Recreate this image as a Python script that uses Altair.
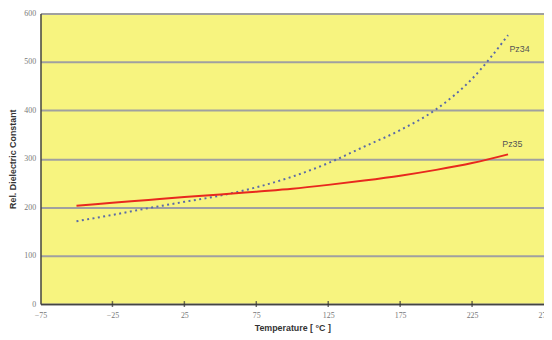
import altair as alt
import pandas as pd

temps = [-50, -25, 0, 25, 50, 75, 100, 125, 150, 175, 200, 225, 250]
pz35 = [203, 209, 215, 221, 226, 232, 238, 246, 255, 265, 277, 291, 309]
pz34 = [171, 184, 198, 211, 224, 241, 263, 291, 325, 359, 402, 465, 555]
x_ticks = [-75, -25, 25, 75, 125, 175, 225, 275]
y_ticks = [0, 100, 200, 300, 400, 500, 600]
label_names = ["Pz34", "Pz35"]
label_t = [258, 253]
label_v = [527, 330]

df = pd.DataFrame({"T": temps * 2,
                   "v": pz34 + pz35,
                   "s": ["Pz34"] * len(temps) + ["Pz35"] * len(temps)})
lab = pd.DataFrame({"T": label_t, "v": label_v, "name": label_names})
tk = pd.DataFrame({"T": x_ticks[1:-1], "v": [0] * (len(x_ticks) - 2)})

FONT = "Liberation Sans Narrow"

xs = alt.Scale(domain=[-75, 275], nice=False, zero=False)
ys = alt.Scale(domain=[0, 600], nice=False)

xax = alt.Axis(values=x_ticks, title="Temperature [ °C ]", grid=False,
               labelFont=FONT, labelFontSize=8, labelColor="#777777",
               titleFont="Liberation Sans", titleFontSize=9, titleFontWeight="bold",
               titleColor="#333333", domainColor="#444444", domainWidth=1.5,
               ticks=False, labelPadding=8, titlePadding=4, labelFlush=False,
               labelBound=False)
yax = alt.Axis(values=y_ticks, title="Rel. Dielectric Constant", grid=True,
               gridColor="#a0a0a0", gridWidth=2,
               labelFont=FONT, labelFontSize=8, labelColor="#777777",
               titleFont="Liberation Sans", titleFontSize=9, titleFontWeight="bold",
               titleColor="#333333", domainColor="#444444", domainWidth=1.5,
               ticks=False, labelPadding=5, titlePadding=6)

base = alt.Chart(df)

lines34 = base.transform_filter(alt.datum.s == "Pz34").mark_line(
    color="#5a6aa8", strokeWidth=2, strokeDash=[2, 3.5], interpolate="monotone"
).encode(x=alt.X("T:Q", scale=xs, axis=xax), y=alt.Y("v:Q", scale=ys, axis=yax))

lines35 = base.transform_filter(alt.datum.s == "Pz35").mark_line(
    color="#e8281e", strokeWidth=2, interpolate="monotone"
).encode(x=alt.X("T:Q", scale=xs), y=alt.Y("v:Q", scale=ys))

ticks = alt.Chart(tk).mark_tick(color="#333333", thickness=1.5, size=6, orient="vertical").encode(
    x=alt.X("T:Q", scale=xs), y=alt.Y("v:Q", scale=ys))

labels = alt.Chart(lab).mark_text(font="Liberation Sans", fontSize=9, color="#555555").encode(
    x=alt.X("T:Q", scale=xs), y=alt.Y("v:Q", scale=ys), text="name:N")

chart = alt.layer(lines34, lines35, ticks, labels).properties(
    width=511, height=295,
    autosize=alt.AutoSizeParams(type="none"),
    padding={"left": 33, "top": 3, "right": 0, "bottom": 34},
    background="white",
).configure_view(fill="#f7f47f", stroke=None)

chart.save("out.html", embed_options={"renderer": "svg", "actions": False})
